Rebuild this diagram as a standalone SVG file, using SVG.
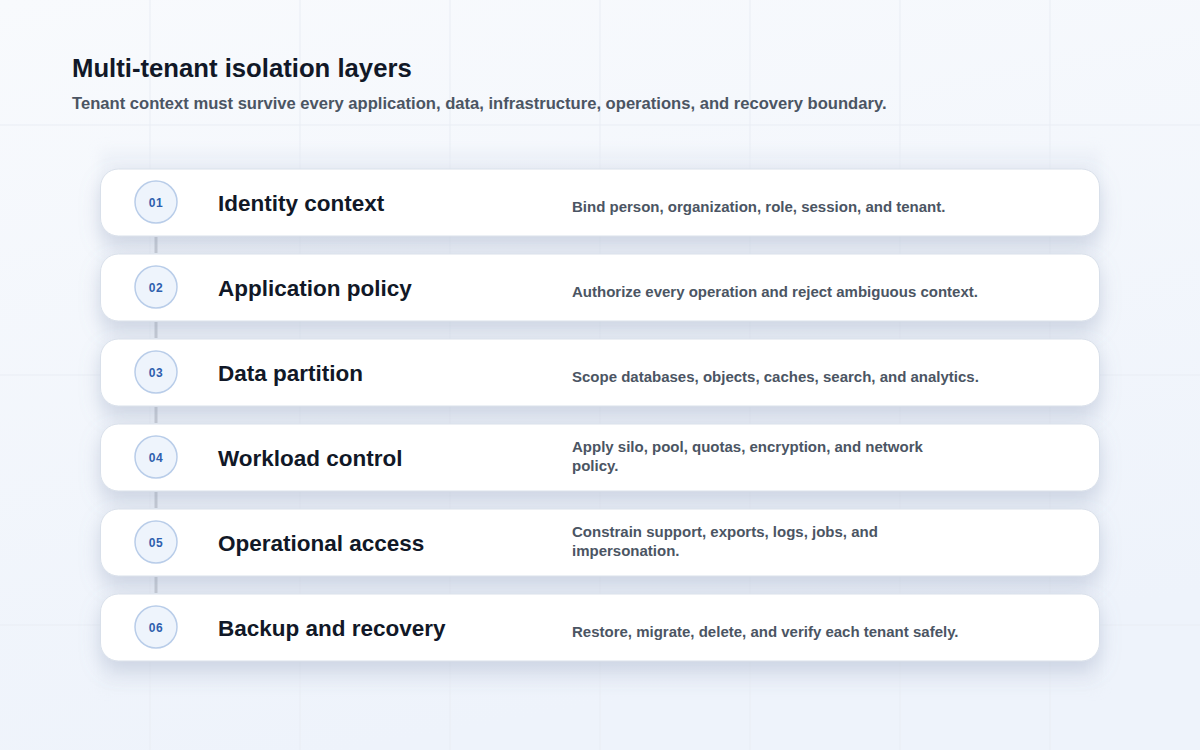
<svg xmlns="http://www.w3.org/2000/svg" width="1200" height="750" viewBox="0 0 1200 750">
  <defs>
    <linearGradient id="bg" x1="0" y1="0" x2="0.3" y2="1">
      <stop offset="0" stop-color="#f8fafd"/>
      <stop offset="1" stop-color="#eef3fb"/>
    </linearGradient>
    <filter id="cardShadow" x="-10%" y="-40%" width="120%" height="200%">
      <feDropShadow dx="0" dy="9" stdDeviation="10" flood-color="#8a9ab8" flood-opacity="0.32"/>
    </filter>
    <filter id="panelBlur" x="-10%" y="-10%" width="120%" height="120%">
      <feGaussianBlur stdDeviation="6"/>
    </filter>
    <style>
      .grid { stroke: #e9edf4; stroke-width: 1; }
      .card { fill: #ffffff; stroke: #d9e0ea; stroke-width: 1; filter: url(#cardShadow); }
      .badge { fill: #eef4fc; stroke: #b9cde9; stroke-width: 1.5; }
      .num { font-family: "Liberation Sans", Arial, sans-serif; font-size: 12px; font-weight: 700; fill: #2f5fae; text-anchor: middle; letter-spacing: 0.5px; }
      .ttl { font-family: "Liberation Sans", Arial, sans-serif; font-size: 22.5px; font-weight: 700; fill: #111827; }
      .desc { font-family: "Liberation Sans", Arial, sans-serif; font-size: 15px; font-weight: 700; fill: #4b5563; }
      .conn { stroke: #c7ccd4; stroke-width: 3; }
    </style>
  </defs>

  <rect width="1200" height="750" fill="url(#bg)"/>
  <g id="grid">
    <line class="grid" x1="150" y1="0" x2="150" y2="750"/>
    <line class="grid" x1="300" y1="0" x2="300" y2="750"/>
    <line class="grid" x1="450" y1="0" x2="450" y2="750"/>
    <line class="grid" x1="600" y1="0" x2="600" y2="750"/>
    <line class="grid" x1="750" y1="0" x2="750" y2="750"/>
    <line class="grid" x1="900" y1="0" x2="900" y2="750"/>
    <line class="grid" x1="1050" y1="0" x2="1050" y2="750"/>
    <line class="grid" x1="0" y1="125" x2="1200" y2="125"/>
    <line class="grid" x1="0" y1="375" x2="1200" y2="375"/>
    <line class="grid" x1="0" y1="625" x2="1200" y2="625"/>
  </g>

  <rect id="panel" x="100" y="150" width="1000" height="538" fill="#e6ebf4" opacity="0.5" filter="url(#panelBlur)"/>

  <g id="header">
    <text x="72" y="77" font-family="Liberation Sans, Arial, sans-serif" font-size="25.7" font-weight="700" fill="#111827">Multi-tenant isolation layers</text>
    <text x="72" y="109" font-family="Liberation Sans, Arial, sans-serif" font-size="16.6" font-weight="700" fill="#4b5563">Tenant context must survive every application, data, infrastructure, operations, and recovery boundary.</text>
  </g>

  <g id="connectors">
    <line class="conn" x1="156" y1="237" x2="156" y2="253"/>
    <line class="conn" x1="156" y1="322" x2="156" y2="338"/>
    <line class="conn" x1="156" y1="407" x2="156" y2="423"/>
    <line class="conn" x1="156" y1="492" x2="156" y2="508"/>
    <line class="conn" x1="156" y1="577" x2="156" y2="593"/>
  </g>

  <g id="layer-01">
    <rect class="card" x="100.5" y="169" width="999" height="67" rx="18"/>
    <circle class="badge" cx="156" cy="202" r="21"/>
    <text class="num" x="156" y="206.5">01</text>
    <text class="ttl" x="218" y="211">Identity context</text>
    <text class="desc" x="572" y="212">Bind person, organization, role, session, and tenant.</text>
  </g>

  <g id="layer-02">
    <rect class="card" x="100.5" y="254" width="999" height="67" rx="18"/>
    <circle class="badge" cx="156" cy="287" r="21"/>
    <text class="num" x="156" y="291.5">02</text>
    <text class="ttl" x="218" y="296">Application policy</text>
    <text class="desc" x="572" y="297">Authorize every operation and reject ambiguous context.</text>
  </g>

  <g id="layer-03">
    <rect class="card" x="100.5" y="339" width="999" height="67" rx="18"/>
    <circle class="badge" cx="156" cy="372" r="21"/>
    <text class="num" x="156" y="376.5">03</text>
    <text class="ttl" x="218" y="381">Data partition</text>
    <text class="desc" x="572" y="382">Scope databases, objects, caches, search, and analytics.</text>
  </g>

  <g id="layer-04">
    <rect class="card" x="100.5" y="424" width="999" height="67" rx="18"/>
    <circle class="badge" cx="156" cy="457" r="21"/>
    <text class="num" x="156" y="461.5">04</text>
    <text class="ttl" x="218" y="466">Workload control</text>
    <text class="desc" x="572" y="452">Apply silo, pool, quotas, encryption, and network</text>
    <text class="desc" x="572" y="471">policy.</text>
  </g>

  <g id="layer-05">
    <rect class="card" x="100.5" y="509" width="999" height="67" rx="18"/>
    <circle class="badge" cx="156" cy="542" r="21"/>
    <text class="num" x="156" y="546.5">05</text>
    <text class="ttl" x="218" y="551">Operational access</text>
    <text class="desc" x="572" y="537">Constrain support, exports, logs, jobs, and</text>
    <text class="desc" x="572" y="556">impersonation.</text>
  </g>

  <g id="layer-06">
    <rect class="card" x="100.5" y="594" width="999" height="67" rx="18"/>
    <circle class="badge" cx="156" cy="627" r="21"/>
    <text class="num" x="156" y="631.5">06</text>
    <text class="ttl" x="218" y="636">Backup and recovery</text>
    <text class="desc" x="572" y="637">Restore, migrate, delete, and verify each tenant safely.</text>
  </g>
</svg>
